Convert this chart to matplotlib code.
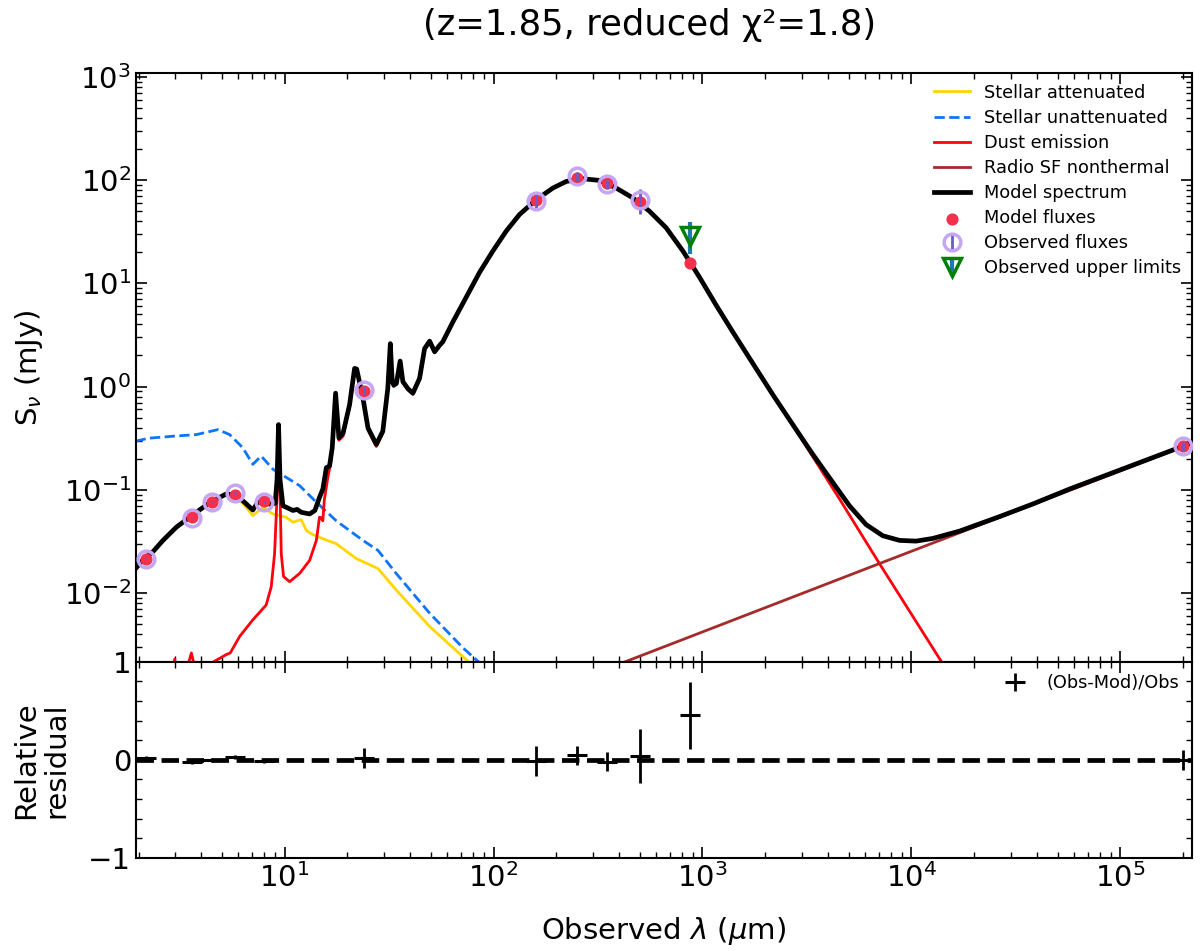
import numpy as np
import matplotlib
matplotlib.use("Agg")
import matplotlib.pyplot as plt
from matplotlib import gridspec
from matplotlib.ticker import LogLocator, NullFormatter, AutoMinorLocator

# photometric bands (observed frame, micron) and fluxes in mJy
filters_wl = np.array([2.16, 3.6, 4.5, 5.8, 8.0, 24.0, 160.0, 250.0, 350.0, 500.0, 870.0, 2.0e5])
mod_fluxes = np.array([0.0212, 0.054, 0.077, 0.0895, 0.078, 0.90, 64.0, 104.0, 93.0, 62.0, 15.8, 0.265])
obs_fluxes = np.array([0.0216, 0.0529, 0.077, 0.0923, 0.0768, 0.918, 63.4, 108.9, 91.2, 64.6, 29.0, 0.265])
obs_err = np.array([0.0004, 0.001, 0.0015, 0.002, 0.0015, 0.09, 9.5, 10.5, 8.8, 18.0, 9.9, 0.027])
upper_lim = np.array([False] * 10 + [True, False])

# spectra, log10(lambda/um) and log10(S/mJy)
model_logwl = [0.287, 0.325, 0.37, 0.418, 0.482, 0.545, 0.60, 0.649, 0.721, 0.76, 0.80, 0.848, 0.872,
               0.928, 0.955, 0.964, 0.971, 0.978, 0.992, 1.04, 1.06, 1.08, 1.12, 1.145, 1.167,
               1.183, 1.20, 1.215, 1.228, 1.244, 1.26, 1.28, 1.311, 1.335, 1.345, 1.375, 1.399,
               1.439, 1.47, 1.494, 1.506, 1.515, 1.522, 1.535, 1.553, 1.566, 1.59, 1.614, 1.646,
               1.67, 1.694, 1.718, 1.742, 1.757, 1.805, 1.869, 1.933, 1.997, 2.061, 2.124, 2.204,
               2.284, 2.348, 2.427, 2.507, 2.587, 2.667, 2.746, 2.826, 2.906, 2.986, 3.066, 3.145,
               3.241, 3.337, 3.432, 3.528, 3.624, 3.703, 3.783, 3.863, 3.943, 4.022, 4.102, 4.23,
               4.421, 4.58, 4.756, 5.342]
model_logfl = [-1.763, -1.673, -1.60, -1.49, -1.362, -1.266, -1.185, -1.115, -1.04, -1.05, -1.106, -1.196, -1.12,
               -1.138, -1.13, -0.9, -0.368, -0.9, -1.154, -1.20, -1.19, -1.218, -1.234, -1.20, -1.074,
               -0.993, -0.785, -0.77, -0.593, -0.064, -0.497, -0.45, -0.176, 0.176, 0.17, -0.112, -0.40,
               -0.56, -0.433, -0.016, 0.416, 0.05, 0.016, 0.03, 0.247, 0.048, -0.02, -0.064, 0.08,
               0.368, 0.44, 0.337, 0.40, 0.433, 0.625, 0.865, 1.106, 1.314, 1.507, 1.666, 1.81,
               1.923, 1.987, 2.013, 1.997, 1.923, 1.827, 1.699, 1.538, 1.314, 1.058, 0.786, 0.529,
               0.224, -0.08, -0.368, -0.657, -0.93, -1.154, -1.337, -1.445, -1.49, -1.497, -1.471, -1.40,
               -1.26, -1.138, -0.993, -0.545]

att_logwl = [0.287, 0.325, 0.418, 0.482, 0.545, 0.60, 0.649, 0.721, 0.76, 0.80, 0.848, 0.896,
             0.944, 1.008, 1.04, 1.06, 1.08, 1.104, 1.128, 1.183, 1.247, 1.343, 1.447, 1.534,
             1.694, 1.877, 1.95]
att_logfl = [-1.765, -1.676, -1.495, -1.368, -1.272, -1.192, -1.124, -1.05, -1.07, -1.13, -1.25, -1.17,
             -1.234, -1.266, -1.314, -1.30, -1.29, -1.394, -1.426, -1.474, -1.522, -1.666, -1.763, -1.97,
             -2.324, -2.66, -2.80]

unatt_logwl = [0.287, 0.35, 0.466, 0.578, 0.681, 0.737, 0.80, 0.848, 0.888, 0.944, 1.008, 1.072,
               1.152, 1.247, 1.375, 1.447, 1.534, 1.694, 1.853, 1.925, 2.0]
unatt_logfl = [-0.529, -0.50, -0.481, -0.465, -0.417, -0.465, -0.593, -0.753, -0.673, -0.80, -0.88, -0.96,
               -1.12, -1.30, -1.49, -1.587, -1.81, -2.195, -2.53, -2.66, -2.78]

dust_logwl = [0.287, 0.46, 0.474, 0.49, 0.53, 0.554, 0.57, 0.62, 0.665, 0.70, 0.721, 0.74,
              0.785, 0.848, 0.912, 0.936, 0.952, 0.963, 0.971, 0.978, 0.984, 0.995, 1.024, 1.072,
              1.12, 1.152, 1.167, 1.175, 1.183, 1.19, 1.207, 1.223, 1.244, 1.26, 1.28, 1.311,
              1.335, 1.345, 1.375, 1.399, 1.439, 1.47, 1.494, 1.506, 1.515, 1.522, 1.535, 1.553,
              1.566, 1.59, 1.614, 1.646, 1.67, 1.694, 1.718, 1.742, 1.757, 1.805, 1.869, 1.933,
              1.997, 2.061, 2.124, 2.204, 2.284, 2.348, 2.427, 2.507, 2.587, 2.667, 2.746, 2.826,
              2.906, 2.986, 3.066, 3.145, 3.241, 3.337, 3.432, 3.528, 3.656, 3.847, 4.142, 4.30]
dust_logfl = [-3.0, -2.9, -2.64, -2.85, -2.75, -2.58, -2.72, -2.72, -2.66, -2.62, -2.596, -2.58,
              -2.42, -2.26, -2.115, -1.94, -1.62, -1.106, -0.43, -1.0, -1.62, -1.84, -1.89, -1.81,
              -1.683, -1.49, -1.266, -1.27, -1.30, -1.10, -0.88, -0.72, -0.08, -0.52, -0.48, -0.19,
              0.17, 0.16, -0.13, -0.42, -0.58, -0.45, -0.03, 0.41, 0.04, 0.0, 0.02, 0.24,
              0.04, -0.03, -0.075, 0.07, 0.36, 0.435, 0.332, 0.395, 0.43, 0.623, 0.864, 1.105,
              1.314, 1.507, 1.666, 1.81, 1.923, 1.987, 2.013, 1.997, 1.923, 1.827, 1.699, 1.538,
              1.314, 1.058, 0.786, 0.528, 0.222, -0.085, -0.375, -0.68, -1.09, -1.715, -2.66, -3.17]

radio_wl = [355.0, 7030.0, 2.2e5]
radio_fl = [1.87e-3, 1.93e-2, 0.282]

fig = plt.figure(figsize=(12, 9.51), dpi=100)
gs = gridspec.GridSpec(2, 1, height_ratios=[3, 1], left=0.1133, right=0.9933,
                       top=0.9232, bottom=0.0978, hspace=0)
ax1 = plt.subplot(gs[0])
ax2 = plt.subplot(gs[1], sharex=ax1)

xmin, xmax = 0.9 * filters_wl.min(), 1.1 * filters_wl.max()
ymin, ymax = 0.1 * obs_fluxes.min(), 10 * obs_fluxes.max()

l1, = ax1.loglog(10 ** np.array(att_logwl), 10 ** np.array(att_logfl), color='gold', lw=2,
                 label='Stellar attenuated')
l2, = ax1.loglog(10 ** np.array(unatt_logwl), 10 ** np.array(unatt_logfl), color='xkcd:deep sky blue',
                 ls='--', lw=2, label='Stellar unattenuated')
l3, = ax1.loglog(10 ** np.array(dust_logwl), 10 ** np.array(dust_logfl), color='xkcd:bright red', lw=2,
                 label='Dust emission')
l4, = ax1.loglog(radio_wl, radio_fl, color='brown', lw=2, label='Radio SF nonthermal')
l5, = ax1.loglog(10 ** np.array(model_logwl), 10 ** np.array(model_logfl), color='k', lw=3.4,
                 label='Model spectrum')

sc = ax1.scatter(filters_wl, mod_fluxes, marker='o', color='#f4304c', s=60, zorder=3,
                 label='Model fluxes')
ok = ~upper_lim
eb1 = ax1.errorbar(filters_wl[ok], obs_fluxes[ok], yerr=obs_err[ok], ls='', marker='o',
                   markerfacecolor='None', markersize=12, markeredgecolor='#c4a6f2', mew=2.5,
                   ecolor='#6a5acd', elinewidth=2, capsize=0, zorder=4, label='Observed fluxes')
eb2 = ax1.errorbar(filters_wl[upper_lim], obs_fluxes[upper_lim], yerr=obs_err[upper_lim], ls='',
                   marker='v', markerfacecolor='None', markersize=13, markeredgecolor='green', mew=2.5,
                   ecolor='tab:blue', elinewidth=3, capsize=0, zorder=4, label='Observed upper limits')

ax1.set_xlim(xmin, xmax)
ax1.set_ylim(ymin, ymax)
ax1.set_ylabel(r'S$_\nu$ (mJy)', fontsize=21)
ax1.yaxis.set_label_coords(-0.086, 0.5)
ax1.legend(handles=[l1, l2, l3, l4, l5, sc, eb1, eb2], loc='upper right', fontsize=12.8,
           frameon=False, labelspacing=0.4, borderaxespad=0.2)
ax1.yaxis.set_minor_locator(LogLocator(base=10, subs=np.arange(2, 10), numticks=100))
ax1.yaxis.set_minor_formatter(NullFormatter())
plt.setp(ax1.get_xticklabels(), visible=False)

# residuals
resid = (obs_fluxes - mod_fluxes) / obs_fluxes
resid_err = obs_err / obs_fluxes
ax2.errorbar(filters_wl, resid, yerr=resid_err, marker='_', markersize=14, mew=2.2, color='k',
             elinewidth=2, capsize=0, ls='None', label='(Obs-Mod)/Obs')
ax2.plot([xmin, xmax], [0.0, 0.0], ls='--', color='k', lw=3.4)
ax2.set_ylim(-1, 1)
ax2.set_xscale('log')
ax2.set_xlim(xmin, xmax)
ax2.yaxis.set_minor_locator(AutoMinorLocator(5))
ax2.xaxis.set_minor_locator(LogLocator(base=10, subs=np.arange(2, 10), numticks=100))
ax2.xaxis.set_minor_formatter(NullFormatter())
ax2.set_xlabel(r'Observed $\lambda$ ($\mu$m)', fontsize=21, labelpad=16)
ax2.set_ylabel('Relative\nresidual', fontsize=21, linespacing=1.12)
ax2.yaxis.set_label_coords(-0.062, 0.5)
ax2.legend(loc='upper right', fontsize=12.8, frameon=False, borderaxespad=0.3)

for ax in (ax1, ax2):
    ax.tick_params(which='both', direction='in', top=True, right=True, labelsize=21)
    ax.tick_params(which='major', length=8, width=1.2)
    ax.tick_params(which='minor', length=4, width=1)
    for sp in ax.spines.values():
        sp.set_linewidth(1.5)

fig.text(0.541, 0.974, '(z=1.85, reduced χ²=1.8)', fontsize=25.5, ha='center', va='center')

fig.savefig('out.png', dpi=100)
